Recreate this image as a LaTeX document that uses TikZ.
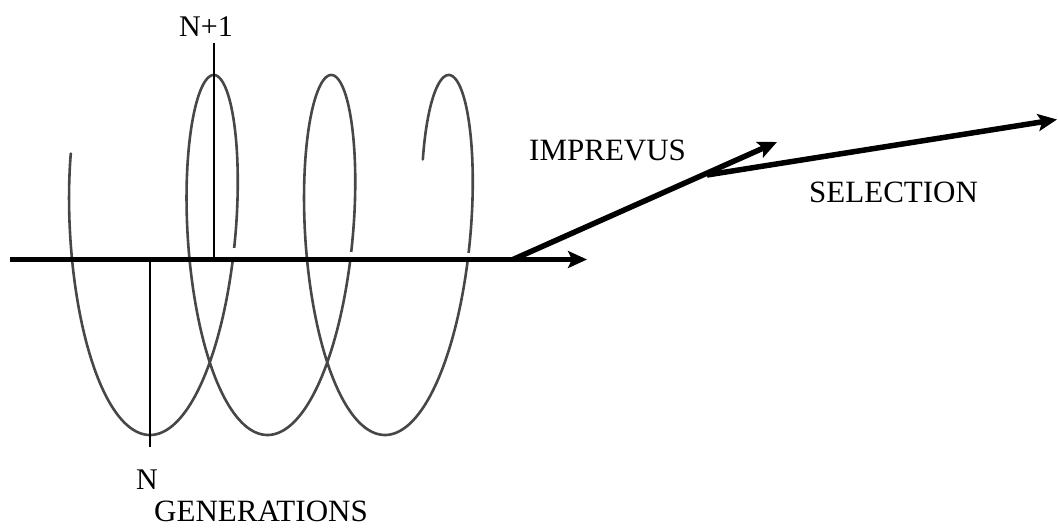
\documentclass[tikz,border=0pt]{standalone}
\usepackage{fontspec}
\setmainfont{Liberation Serif}
\usetikzlibrary{arrows.meta}
\begin{document}
\begin{tikzpicture}[x=1pt,y=-1pt,
  bigarrow/.style={line width=5.5pt,-{Stealth[length=19pt,width=17pt,inset=4pt]}},
  tick/.style={line width=1.6pt},
  coil/.style={line width=2.6pt,draw=black!72,line cap=round},
  gapfill/.style={fill=white,draw=none},
  lbl/.style={inner sep=0pt,anchor=base west,font=\fontsize{31}{31}\selectfont},
  smalllbl/.style={lbl,font=\fontsize{30}{30}\selectfont}]
\useasboundingbox (0,0) rectangle (1058,529);
% coil (projected helix)
\draw[coil] plot[domain=-2.17:16.72,samples=700,smooth,variable=\t]
  ({150+18.70*\t+51.5*sin(\t r)-2.5*cos(\t r)+2.5},{255+180*cos(\t r)});
% gaps where the coil passes behind the axis
\fill[gapfill] (223,248) rectangle (239,258);
\fill[gapfill] (341,252) rectangle (357,258);
\fill[gapfill] (460,253) rectangle (476,258);
% coordinates
\coordinate (a0) at (10,259.5);
\coordinate (h) at (587,259.5);
\coordinate (o) at (513,259.5);
\coordinate (im) at (777,142);
\coordinate (j) at (707,175);
\coordinate (s) at (1057,119.5);
\coordinate (np1top) at (214,43);
\coordinate (np1bot) at (214,258);
\coordinate (ntop) at (150,261);
\coordinate (nbot) at (150,447);
% marks
\draw[tick] (np1top) -- (np1bot);
\draw[tick] (ntop) -- (nbot);
% arrows
\draw[bigarrow] (a0) -- (h);
\draw[bigarrow] (o) -- (im);
\draw[bigarrow] (j) -- (s);
% labels
\node[lbl] (imp) at (529,161) {IMPREVUS};
\node[lbl] (sel) at (809,203) {SELECTION};
\node[smalllbl] (np1) at (179,37) {N+1};
\node[smalllbl] (n) at (136,489) {N};
\node[lbl] (gen) at (154,521) {GENERATIONS};
\end{tikzpicture}
\end{document}
